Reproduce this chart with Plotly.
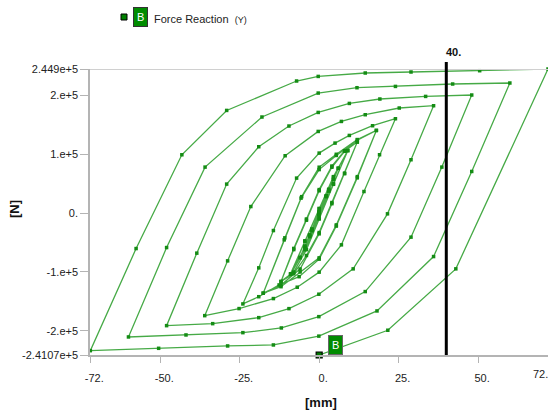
import plotly.graph_objects as go

# Force reaction (Y) against imposed displacement, cyclic protocol of growing amplitude.
# Each block: 0 -> -A -> +A -> 0  (displacement in mm, reaction in N)

d_a045 = [0, -2.25, -4.5, -2.25, 0, 2.25, 4.5, 2.25, 0,
          -2.25, -4.5, -2.25, 0, 2.25, 4.5, 2.25, 0]
f_a045 = [0, -29000, -56000, -27000, 1500, 29500, 57000, 28500, -1500,
          -30000, -56500, -27500, 1000, 29000, 57500, 28000, -2000]

d_a060 = [-3, -6, -3, 0, 3, 6, 3, 0,
          -3, -6, -3, 0, 3, 6, 3, 0]
f_a060 = [-39000, -75000, -37000, 2500, 40000, 76000, 38000, -3000,
          -40000, -76000, -37500, 2000, 40500, 76500, 37500, -3500]

d_a090 = [-4.5, -9, -4.5, 0, 4.5, 9, 4.5, 0,
          -4.5, -9, -4.5, 0, 4.5, 9, 4.5, 0]
f_a090 = [-59000, -103000, -48000, 8000, 62000, 106000, 50000, -9000,
          -62000, -104000, -47000, 7000, 61000, 106500, 49000, -10000]

d_a120 = [-4, -8, -12, -8, -4, 0, 4, 8, 12, 8, 4, 0,
          -4, -8, -12, -8, -4, 0, 4, 8, 12, 8, 4, 0]
f_a120 = [-62000, -100000, -116000, -62000, -12000, 38000, 78000, 105000, 120800, 68000, 18000, -33000,
          -72000, -103000, -116300, -60000, -10000, 40000, 80000, 106000, 121000, 67000, 16000, -35200]

d_a180 = [-6, -12, -17.6, -11, -5.7, 0, 5.4, 12, 18, 12, 5.4, 0,
          -6, -12, -17.6, -10.8, -5.5, 0, 5.4, 12, 18, 12, 5.4, 0]
f_a180 = [-95000, -122000, -136000, -45400, 25500, 74000, 98000, 124000, 140500, 62000, -20000, -76000,
          -100000, -125000, -136000, -42000, 28000, 78000, 100000, 125000, 140500, 60000, -22000, -78200]

d_a240 = [-6.3, -12.6, -19, -24, -19, -14.4, -7.1, 0, 5, 9.5, 16.8, 24, 19, 14.1, 7, 0]
f_a240 = [-108000, -122000, -142000, -154300, -93000, -29600, 59500, 102000, 119000, 132000, 148500, 160400,
          99200, 36700, -53900, -100300]

d_a360 = [-6.9, -14.4, -25.2, -36, -28.8, -21.5, -10.7, -0.3, 7, 14.5, 25.2, 36, 28.9, 21.5, 10.7, -0.1]
f_a360 = [-125900, -145200, -162200, -174200, -81100, 11200, 97500, 138800, 155800, 167200, 178600, 182500,
          90700, -1200, -94700, -137800]

d_a480 = [-9.5, -19, -33.5, -48, -38.5, -29.1, -19, -9.5, -0.3, 9.5, 19.1, 33.5, 48, 38.6, 28.9, 14.5, -0.1]
f_a480 = [-162300, -177600, -187800, -191200, -68000, 49300, 112800, 148000, 171100, 186400, 193900, 198300,
          200700, 78200, -40800, -133300, -175900]

d_a600 = [-11.9, -24, -41.9, -60, -48, -35.9, -18, -0.3, 11.9, 24, 42, 60, 48, 36, 18.2, -0.1]
f_a600 = [-195100, -203100, -207000, -210400, -58500, 78200, 163300, 204000, 213100, 215300, 219400, 221100,
          70800, -73800, -166200, -209000]

d_a720 = [-14.4, -28.8, -50.5, -72, -57.6, -43.2, -29.1, -7.1, -0.3, 14.5, 28.9, 50.5, 72, 43, 21.6, 0]
f_a720 = [-224000, -225700, -229700, -233700, -60200, 99150, 174500, 224500, 232300, 238100, 239800, 242000,
          244900, -94700, -199000, -241070]

x_ticks = [-72, -50, -25, 0, 25, 50]
x_ticktext = ["-72.", "-50.", "-25.", "0.", "25.", "50."]
y_ticks = [-241070, -200000, -100000, 0, 100000, 200000, 244900]
y_ticktext = ["-2.4107e+5", "-2.e+5", "-1.e+5", "0.", "1.e+5", "2.e+5", "2.449e+5"]
probe_x = 40

disp = d_a045 + d_a060 + d_a090 + d_a120 + d_a180 + d_a240 + d_a360 + d_a480 + d_a600 + d_a720
force = f_a045 + f_a060 + f_a090 + f_a120 + f_a180 + f_a240 + f_a360 + f_a480 + f_a600 + f_a720

GREEN = "rgb(20,140,20)"
LINE = "rgb(70,170,70)"
FONT = "Liberation Sans, Arial, sans-serif"

# plot area in pixels: x 90..548, y 69..355
PW, PH = 458, 286


def px_x(px):
    return (px - 90) / PW


def px_y(py):
    return (355 - py) / PH


fig = go.Figure()
fig.add_trace(go.Scatter(
    x=disp, y=force, mode="lines+markers", name="Force Reaction",
    line=dict(color=LINE, width=1.3),
    marker=dict(symbol="square", size=3.5, color=GREEN),
    cliponaxis=False, showlegend=False,
))
# minimum-value probe marker at the last step
fig.add_trace(go.Scatter(
    x=[disp[-1]], y=[force[-1]], mode="markers",
    marker=dict(symbol="square", size=6, color="rgb(0,120,0)", line=dict(color="black", width=1.2)),
    cliponaxis=False, showlegend=False, hoverinfo="skip",
))

fig.update_layout(
    width=548, height=412,
    margin=dict(l=90, r=0, t=69, b=57),
    paper_bgcolor="white", plot_bgcolor="white",
    font=dict(family=FONT, size=11, color="#222"),
    xaxis=dict(
        range=[-72.1, 72.0], tickvals=x_ticks, ticktext=x_ticktext,
        showgrid=False, zeroline=False, showline=True, linecolor="#b4b4b4", linewidth=1.5,
        ticks="outside", ticklen=6, tickcolor="#b4b4b4", tickwidth=1,
        ticklabelstandoff=6, ticklabelshift=4,
    ),
    yaxis=dict(
        range=[-241070, 244900], tickvals=y_ticks, ticktext=y_ticktext,
        showgrid=False, zeroline=False, showline=True, linecolor="#b4b4b4", linewidth=1.5,
        ticks="outside", ticklen=8, tickcolor="#b4b4b4", tickwidth=1,
    ),
)

# top frame line
fig.add_shape(type="line", xref="paper", yref="y", x0=0, x1=1, y0=244900, y1=244900,
              line=dict(color="#d0d0d0", width=2))
# probe line at x = 40
fig.add_shape(type="line", xref="x", yref="paper", x0=probe_x, x1=probe_x, y0=0, y1=px_y(62),
              line=dict(color="black", width=3))
fig.add_annotation(x=probe_x, xref="x", y=px_y(52), yref="paper", text="<b>40.</b>",
                   showarrow=False, xanchor="left", yanchor="middle", xshift=-2,
                   font=dict(family=FONT, size=11, color="#111"))

# x tick label at the right edge
fig.add_annotation(x=1, xref="paper", y=0, yref="paper", text="72.", showarrow=False,
                   xanchor="right", yanchor="top", yshift=-11, xshift=2,
                   font=dict(family=FONT, size=11, color="#222"))

# axis titles
fig.add_annotation(x=px_x(321), xref="paper", y=px_y(402), yref="paper",
                   text="<b>[mm]</b>", showarrow=False, xanchor="center", yanchor="middle",
                   font=dict(family=FONT, size=13, color="#111"))
fig.add_annotation(x=px_x(14), xref="paper", y=px_y(209), yref="paper", text="<b>[N]</b>", textangle=-90,
                   showarrow=False, xanchor="center", yanchor="middle",
                   font=dict(family=FONT, size=13, color="#111"))

# "B" tag on the probed minimum
fig.add_annotation(x=disp[-1], y=force[-1], text="B", showarrow=False, xshift=16, yshift=10,
                   bgcolor="rgb(0,140,0)", bordercolor="#666", borderwidth=1, borderpad=3,
                   font=dict(family=FONT, size=11, color="white"))

# legend entry
fig.add_shape(type="rect", xref="paper", yref="paper",
              x0=px_x(121), x1=px_x(127), y0=px_y(20), y1=px_y(14),
              fillcolor="rgb(0,128,0)", line=dict(color="black", width=1))
fig.add_annotation(x=px_x(140.5), xref="paper", y=px_y(16.5), yref="paper", text="B",
                   showarrow=False, xanchor="center", yanchor="middle",
                   bgcolor="rgb(0,140,0)", bordercolor="#333", borderwidth=1, borderpad=3,
                   font=dict(family=FONT, size=11, color="white"))
fig.add_annotation(x=px_x(152), xref="paper", y=px_y(19), yref="paper",
                   text="Force Reaction  <span style='font-size:9px'>(Y)</span>",
                   showarrow=False, xanchor="left", yanchor="middle",
                   font=dict(family=FONT, size=11, color="#222"))

fig.write_html("out.html")
